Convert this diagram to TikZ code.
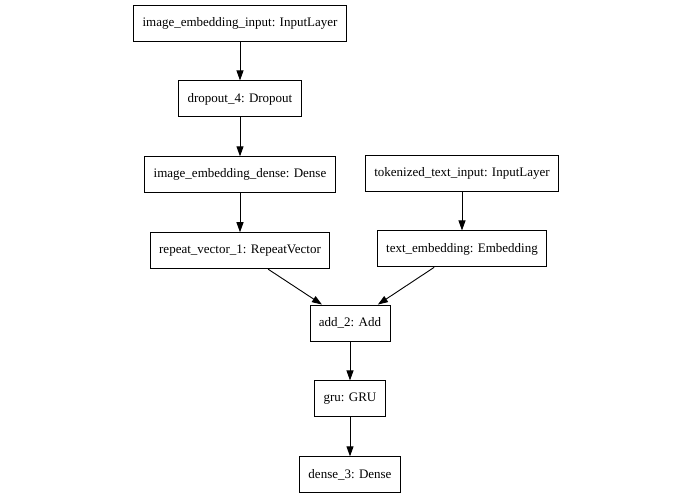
\documentclass[tikz,border=0pt]{standalone}
\usepackage{fontspec}
\setmainfont{Liberation Serif}
\usetikzlibrary{positioning,calc,arrows.meta}

\begin{document}
\begin{tikzpicture}[
        x=1pt, y=-1pt,
        node distance=39pt,
        every node/.style={
            rectangle,
            draw=black,
            line width=0.9pt,
            minimum height=36pt,
            inner xsep=9pt,
            font=\fontsize{13}{15}\selectfont
        },
        arrow/.style={
            -{Triangle[length=10pt,width=7pt]},
            line width=0.9pt
        }
    ]
        \useasboundingbox (0,0) rectangle (695,494);
        \node (imginput) at (240,23) {image\_embedding\_input: InputLayer};
        \node (dropout) [below=of imginput] {dropout\_4: Dropout};
        \node (imgdense) [below=of dropout] {image\_embedding\_dense: Dense};
        \node (txtinput) at (462,173) {tokenized\_text\_input: InputLayer};
        \node (repeat) [below=of imgdense] {repeat\_vector\_1: RepeatVector};
        \node (txtemb) [below=of txtinput] {text\_embedding: Embedding};
        \node (add) at (350,323) {add\_2: Add};
        \node (gru) [below=of add] {gru: GRU};
        \node (dense) [below=of gru] {dense\_3: Dense};

        \draw[arrow] (imginput) -- (dropout);
        \draw[arrow] (dropout) -- (imgdense);
        \draw[arrow] (imgdense) -- (repeat);
        \draw[arrow] (txtinput) -- (txtemb);
        \draw[arrow] (repeat) -- (add);
        \draw[arrow] (txtemb) -- (add);
        \draw[arrow] (add) -- (gru);
        \draw[arrow] (gru) -- (dense);
    \end{tikzpicture}
\end{document}
